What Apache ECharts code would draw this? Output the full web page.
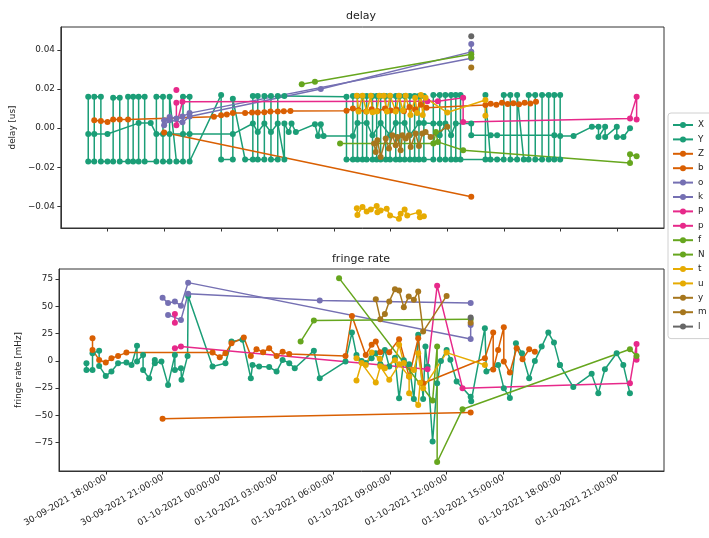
<!DOCTYPE html>
<html>
<head>
<meta charset="utf-8">
<script src="https://cdn.jsdelivr.net/npm/echarts@6/dist/echarts.min.js"></script>
<style>
  html, body { margin: 0; padding: 0; background: #fff; }
  #chart { width: 709px; height: 538px; }
</style>
</head>
<body>
<div id="chart"></div>
<script>
// time is hours since 30-09-2021 00:00
const xMin = 15.53, xMax = 47.48;
const timeTicks = [18, 21, 24, 27, 30, 33, 36, 39, 42, 45];
const delayTicks = [-0.04, -0.02, 0, 0.02, 0.04];
const rateTicks = [-75, -50, -25, 0, 25, 50, 75];

const names = ['X', 'Y', 'Z', 'b', 'o', 'k', 'P', 'p', 'f', 'N', 't', 'u', 'y', 'm', 'l'];

// ---- delay [us]
const X_delay = [[16.98,0.016],[16.98,-0.017],[17.30,-0.017],[17.30,0.016],[17.65,0.016],[17.65,-0.017],[18.00,-0.017],[18.30,-0.017],[18.30,0.0155],[18.65,0.0155],[18.65,-0.017],[19.09,-0.017],[19.09,0.016],[19.36,0.016],[19.36,-0.017],[19.65,-0.017],[19.65,0.016],[19.97,0.016],[19.97,-0.017],[20.59,-0.017],[20.59,0.016],[20.94,0.016],[20.94,-0.017],[21.29,-0.017],[21.29,0.016],[21.65,-0.017],[22.00,-0.017],[22.00,0.016],[22.35,0.016],[22.35,-0.017],
  [24.02,0.017],[24.02,-0.016],[24.64,-0.016],[24.64,0.015],[25.29,-0.016],[25.70,-0.016],[25.70,0.0165],[25.96,0.0165],[25.96,-0.016],[26.31,-0.016],[26.31,0.0165],[26.66,0.0165],[26.66,-0.016],[27.02,-0.016],[27.02,0.0165],[27.37,0.0165],
  [30.66,0.016],[30.66,-0.016],[31.00,-0.016],[31.00,0.0165],[31.24,0.0165],[31.24,-0.016],[31.51,-0.016],[31.51,0.0165],[31.73,0.0165],[31.73,-0.016],[32.04,-0.016],[32.04,0.0165],[32.26,0.0165],[32.26,-0.016],[32.47,-0.016],[32.47,0.0165],[32.74,0.0165],[32.74,-0.016],[32.97,-0.016],[32.97,0.0165],[33.27,0.0165],[33.27,-0.016],[33.49,-0.016],[33.49,0.0165],[33.74,0.0165],[33.74,-0.016],[34.02,-0.016],[34.02,0.0165],[34.27,0.0165],[34.27,-0.016],[34.50,-0.016],[34.50,0.0165],[34.76,0.0165],[34.76,-0.016],[35.26,-0.016],[35.26,0.017],[35.60,0.017],[35.60,-0.016],[35.90,-0.016],[35.90,0.017],[36.20,0.017],[36.20,-0.016],[36.45,-0.016],[36.45,0.017],[36.70,0.017],[36.70,-0.016],
  [38.02,-0.016],[38.02,0.017],[38.29,-0.016],[38.64,-0.016],[38.99,-0.016],[38.99,0.017],[39.34,0.017],[39.34,-0.016],[39.70,-0.016],[39.70,0.017],[40.05,-0.016],[40.31,-0.016],[40.31,0.017],[40.66,0.017],[40.66,-0.016],[41.02,-0.016],[41.02,0.017],[41.37,0.017],[41.37,-0.016],[41.67,-0.016],[41.67,0.017],[41.98,0.017],[41.98,-0.016]];
const Y_delay = [[16.98,-0.003],[17.30,-0.003],[18.00,-0.003],[19.65,0.0026],[20.29,0.0026],[20.59,-0.003],[20.94,-0.003],[21.29,-0.003],[22.00,-0.003],[22.35,-0.003],[24.64,-0.003],[25.70,0.0024],[25.96,-0.002],[26.31,0.0024],[26.66,-0.002],[27.02,0.0024],[27.37,-0.016],[27.37,0.0024],[27.60,-0.002],[27.75,0.0024],[27.98,-0.002],[28.99,0.002],[29.15,-0.004],[29.30,0.002],[29.45,-0.004],[31.00,-0.004],[31.24,0.0026],[31.73,0.0026],[32.04,-0.0036],[32.47,0.0026],[32.97,-0.0036],[33.27,0.0026],[33.74,0.0026],[34.02,-0.0036],[34.50,0.0026],[34.76,0.0026],[35.26,0.0024],[35.60,0.0024],[35.60,-0.0036],[35.90,0.0024],[36.20,-0.0036],[36.45,0.0024],[37.27,0.0024],[37.27,-0.0036],[38.30,-0.0036],[38.64,-0.0036],[41.67,-0.0036],[41.98,-0.004],[42.69,-0.004],[43.66,0.0007],[44.01,0.0007],[44.01,-0.0045],[44.36,0.0007],[44.36,-0.0045],[44.98,0.0007],[44.98,-0.0045],[45.33,-0.0045],[45.68,0.000]];
const Z_delay = [[21.00,-0.0022],[37.27,-0.035]];
const b_delay = [[17.30,0.0041],[17.65,0.0037],[18.00,0.0032],[18.30,0.0045],[18.65,0.0045],[19.09,0.0045],[23.64,0.0058],[24.02,0.0066],[24.32,0.0070],[24.64,0.0077],[25.29,0.0078],[25.66,0.0080],[25.96,0.0080],[26.31,0.0082],[26.63,0.0085],[27.02,0.0085],[27.34,0.0087],[27.69,0.0088],[30.66,0.0089],[31.00,0.0100],[31.30,0.0092],[31.70,0.0085],[32.00,0.0097],[32.30,0.0088],[32.70,0.0100],[33.00,0.0090],[33.30,0.0096],[33.70,0.0086],[34.00,0.0108],[34.30,0.0095],[34.60,0.0120],[34.90,0.0105],[38.02,0.0118],[38.30,0.0125],[38.60,0.0120],[38.90,0.0130],[39.20,0.0124],[39.50,0.0128],[39.80,0.0122],[40.10,0.0130],[40.40,0.0126],[40.70,0.0135]];
const o_delay = [[21.00,0.0040],[21.29,0.0057],[21.65,0.0050],[21.97,0.0060],[22.35,0.0077],[37.27,0.0357],[37.27,0.043]];
const k_delay = [[21.00,0.0015],[21.29,0.0040],[21.97,0.0030],[22.35,0.0060],[29.30,0.020],[37.27,0.039]];
const P_delay = [[21.65,0.013],[21.65,0.0015],[21.97,0.0135],[34.95,0.0138],[35.50,0.0138],[36.84,0.0155],[36.84,0.0032],[45.68,0.005],[46.03,0.016],[46.03,0.0045]];
const p_delay = [[21.65,0.0195]];
const f_delay = [[28.29,0.0224],[28.99,0.0237],[37.27,0.0378],[37.27,0.0362]];
const N_delay = [[30.32,-0.0078],[35.26,-0.0078],[35.40,-0.002],[35.50,-0.007],[36.84,-0.0113],[45.68,-0.0178],[45.68,-0.0133],[46.03,-0.0144]];
const t_delay = [[31.21,0.0166],[31.30,0.0085],[31.51,0.0166],[31.73,0.0085],[31.95,0.0166],[32.04,0.0082],[32.26,0.0085],[32.40,0.0166],[32.64,0.0166],[32.80,0.0085],[32.97,0.0166],[33.27,0.0085],[33.44,0.0166],[33.65,0.0090],[33.80,0.0166],[34.05,0.0067],[34.30,0.0155],[34.40,0.0077],[34.60,0.0170],[34.70,0.0067],[34.85,0.0155],[36.00,0.0080],[38.02,0.0144],[38.02,0.0063]];
const u_delay = [[31.21,-0.0409],[31.24,-0.0443],[31.51,-0.0403],[31.73,-0.0426],[31.95,-0.0415],[32.26,-0.0398],[32.30,-0.0429],[32.47,-0.0421],[32.79,-0.0412],[32.97,-0.0446],[33.44,-0.0463],[33.53,-0.0437],[33.74,-0.0415],[33.88,-0.0446],[34.50,-0.0429],[34.55,-0.0455],[34.76,-0.0450]];
const y_delay = [[32.12,-0.0078],[32.21,-0.0122],[32.30,-0.0062],[32.47,-0.0147],[32.74,-0.0053],[32.91,-0.0104],[33.09,-0.0036],[33.27,-0.0087],[33.36,-0.0045],[33.53,-0.0113],[33.62,-0.0036],[33.80,-0.0053],[33.97,-0.0036],[34.06,-0.0096],[34.32,-0.0027],[34.50,-0.0091],[34.68,-0.0027],[34.85,-0.0019],[35.12,-0.0045],[36.00,0.0007]];
const m_delay = [[37.27,0.031]];
const l_delay = [[37.27,0.047]];

// ---- fringe rate [mHz]
const X_rate = [[16.98,-2.1],[16.98,-8.3],[17.30,-8.3],[17.30,7.0],[17.65,9.4],[17.65,-4.6],[18.00,-13.8],[18.30,-9.8],[18.65,-2.1],[19.09,-1.5],[19.36,-3.7],[19.65,13.8],[19.65,-0.6],[19.97,5.5],[19.97,-8.3],[20.29,-15.9],[20.59,0.9],[20.59,-2.1],[20.94,-0.6],[21.29,-22.0],[21.65,5.5],[21.65,-8.3],[21.97,-6.7],[22.00,-17.4],[22.32,4.6],[22.35,59.6],[23.64,-5.2],[24.32,-2.1],[24.64,17.7],[25.22,19.3],[25.66,-15.9],[25.75,-3.7],[26.10,-5.2],[26.63,-5.5],[27.02,-9.8],[27.34,0.9],[27.69,-2.1],[27.98,-6.7],[28.99,9.4],[29.30,-15.9],
  [30.66,-0.6],[31.00,26.0],[31.24,5.5],[31.51,0.0],[31.73,-2.0],[32.04,2.4],[32.26,7.0],[32.50,-3.0],[32.74,10.0],[32.97,-5.2],[33.27,3.0],[33.49,-34.2],[33.74,0.5],[34.02,-3.0],[34.27,-35.0],[34.50,23.9],[34.76,-35.0],[34.88,13.1],[34.99,-5.2],[35.26,-74.0],[35.50,-20.5],[35.70,0.0],[36.00,10.0],[36.20,1.0],[36.53,-19.0],[37.27,-33.0],[37.30,-37.0],[38.02,30.0],[38.10,-9.8],[38.72,-3.7],[39.02,-25.0],[39.34,-34.0],[39.66,16.2],[39.98,7.0],[40.36,-15.9],[40.66,0.0],[41.02,13.1],[41.37,26.0],[41.67,16.8],[41.98,-3.7]];
const Y_rate = [[41.98,-3.7],[42.69,-24.0],[43.66,-11.9],[44.01,-29.6],[44.36,-7.6],[44.98,7.0],[45.33,-3.7],[45.68,-29.6]];
const Z_rate = [[21.00,-53.0],[37.27,-47.4]];
const b_rate = [[17.30,20.8],[17.30,10.1],[17.65,0.9],[18.00,-1.5],[18.30,2.4],[18.65,4.6],[19.09,7.6],[23.64,7.6],[24.02,3.4],[24.32,7.0],[24.64,16.2],[25.29,21.4],[25.66,4.6],[25.96,10.7],[26.31,8.0],[26.63,11.6],[27.02,4.6],[27.34,8.5],[27.69,6.4],[30.66,4.6],[31.00,41.3],[31.73,5.5],[32.04,14.7],[32.26,17.7],[32.50,8.0],[32.97,8.0],[33.49,19.9],[34.02,-14.4],[34.50,20.8],[34.76,-20.5],[38.02,2.4],[38.46,26.0],[38.46,-8.0],[38.72,10.0],[39.02,30.9],[39.02,-0.5],[39.34,-10.7],[39.70,11.6],[40.01,1.6],[40.36,10.7],[40.66,8.5]];
const o_rate = [[21.00,58.0],[21.29,53.0],[21.65,54.4],[21.97,50.7],[22.35,71.8],[37.27,20.0],[37.27,33.0]];
const k_rate = [[21.29,42.2],[21.97,37.6],[22.35,61.5],[29.30,55.3],[37.27,53.0]];
const P_rate = [[21.65,11.6],[21.97,13.1],[34.99,-7.6],[35.50,69.0],[36.84,-25.0],[45.68,-20.5],[46.03,15.6],[46.03,1.0]];
const p_rate = [[21.65,43.0],[21.65,35.0]];
const f_rate = [[28.29,17.7],[28.99,37.0],[37.27,38.3]];
const N_rate = [[30.32,75.9],[35.26,-36.4],[35.50,13.1],[35.50,-92.7],[36.84,-44.3],[45.68,10.7],[46.03,4.6]];
const t_rate = [[31.24,2.4],[31.73,-3.7],[32.04,7.6],[32.47,2.0],[32.74,-6.7],[33.27,0.5],[33.49,14.7],[33.74,-2.0],[34.27,-8.3],[34.50,7.0],[34.76,-25.0],[36.00,7.6],[38.02,-3.7]];
const u_rate = [[31.24,-18.0],[31.51,-2.0],[32.26,-19.9],[32.50,-5.0],[32.97,-17.4],[33.50,-3.0],[34.02,-14.4],[34.02,-29.6],[34.50,-40.4],[34.60,-20.0]];
const y_rate = [[32.26,56.6],[32.50,38.3],[32.74,43.0],[32.97,54.4],[33.27,65.8],[33.49,64.5],[33.74,49.3],[34.00,59.0],[34.27,56.0],[34.50,63.6],[34.76,26.9],[36.00,59.6]];
const m_rate = [[37.27,35.1]];
const l_rate = [[37.27,39.7]];

const delayData = { X: X_delay, Y: Y_delay, Z: Z_delay, b: b_delay, o: o_delay, k: k_delay, P: P_delay, p: p_delay, f: f_delay, N: N_delay, t: t_delay, u: u_delay, y: y_delay, m: m_delay, l: l_delay };
const rateData = { X: X_rate, Y: Y_rate, Z: Z_rate, b: b_rate, o: o_rate, k: k_rate, P: P_rate, p: p_rate, f: f_rate, N: N_rate, t: t_rate, u: u_rate, y: y_rate, m: m_rate, l: l_rate };

// Dark2, two names per colour
const palette = ['#1b9e77', '#d95f02', '#7570b3', '#e7298a', '#66a61e', '#e6ab02', '#a6761d', '#666666'];
const colorOf = (i) => palette[Math.floor(i / 2)];

const FONT = 'DejaVu Sans';
const TXT = '#222';
const FS = 8.8;

function fmtTime(h) {
  const day = h >= 24 ? '01-10-2021' : '30-09-2021';
  const hh = String(Math.round(h) % 24).padStart(2, '0');
  return day + ' ' + hh + ':00:00';
}
const minus = (s) => s.replace('-', '\u2212');

const myChart = echarts.init(document.getElementById('chart'), null, { renderer: 'canvas' });

const series = [];
names.forEach((name, i) => {
  const c = colorOf(i);
  const style = {
    name: name,
    type: 'line',
    symbol: 'circle',
    symbolSize: 6,
    color: c,
    lineStyle: { width: 1.5, color: c },
    itemStyle: { color: c },
    emphasis: { disabled: true },
    animation: false
  };
  series.push(Object.assign({}, style, { xAxisIndex: 0, yAxisIndex: 0, data: delayData[name] }));
  series.push(Object.assign({}, style, { xAxisIndex: 1, yAxisIndex: 1, data: rateData[name] }));
});

const axisCommon = {
  axisLine: { show: true, onZero: false, lineStyle: { color: '#333', width: 1 } },
  axisTick: { show: true, length: 3.5, lineStyle: { color: '#333', width: 1 } },
  splitLine: { show: false }
};

let option = {
  animation: false,
  backgroundColor: '#fff',
  textStyle: { fontFamily: FONT },
  title: [
    { text: 'delay', left: 361, top: 11, textAlign: 'center', padding: 0,
      textStyle: { fontSize: 11, fontWeight: 'normal', color: TXT, fontFamily: FONT } },
    { text: 'fringe rate', left: 361, top: 254, textAlign: 'center', padding: 0,
      textStyle: { fontSize: 11, fontWeight: 'normal', color: TXT, fontFamily: FONT } }
  ],
  grid: [
    { left: 59, top: 27, width: 605, height: 201, show: true, borderColor: '#333', borderWidth: 1, containLabel: false },
    { left: 59, top: 269, width: 605, height: 202, show: true, borderColor: '#333', borderWidth: 1, containLabel: false }
  ],
  xAxis: [
    Object.assign({}, axisCommon, {
      gridIndex: 0, type: 'value', min: xMin, max: xMax,
      axisTick: Object.assign({}, axisCommon.axisTick, { customValues: timeTicks }),
      axisLabel: { show: false }
    }),
    Object.assign({}, axisCommon, {
      gridIndex: 1, type: 'value', min: xMin, max: xMax,
      axisTick: Object.assign({}, axisCommon.axisTick, { customValues: timeTicks }),
      axisLabel: { customValues: timeTicks, rotate: 30, margin: 6, fontSize: FS, color: TXT, fontFamily: FONT,
        formatter: (v) => fmtTime(v) }
    })
  ],
  yAxis: [
    Object.assign({}, axisCommon, {
      gridIndex: 0, type: 'value', min: -0.0510, max: 0.0517,
      name: 'delay [us]', nameLocation: 'middle', nameGap: 38, nameRotate: 90,
      nameTextStyle: { fontSize: FS, color: TXT, fontFamily: FONT },
      axisTick: Object.assign({}, axisCommon.axisTick, { customValues: delayTicks }),
      axisLabel: { customValues: delayTicks, margin: 6, fontSize: FS, color: TXT, fontFamily: FONT,
        formatter: (v) => minus(v.toFixed(2)) }
    }),
    Object.assign({}, axisCommon, {
      gridIndex: 1, type: 'value', min: -101, max: 84.3,
      name: 'fringe rate [mHz]', nameLocation: 'middle', nameGap: 27, nameRotate: 90,
      nameTextStyle: { fontSize: FS, color: TXT, fontFamily: FONT },
      axisTick: Object.assign({}, axisCommon.axisTick, { customValues: rateTicks }),
      axisLabel: { customValues: rateTicks, margin: 6, fontSize: FS, color: TXT, fontFamily: FONT,
        formatter: (v) => minus(String(v)) }
    })
  ],
  legend: {
    data: names,
    orient: 'vertical',
    left: 668,
    top: 113,
    itemWidth: 20,
    itemHeight: 7.5,
    itemGap: 2.4,
    padding: [6, 30, 6, 4],
    borderColor: '#d0d0d0',
    borderWidth: 1,
    borderRadius: 3,
    backgroundColor: 'rgba(255,255,255,0.8)',
    selectedMode: false,
    textStyle: { fontSize: FS, lineHeight: 12, color: TXT, fontFamily: FONT }
  },
  series: series
};

option && myChart.setOption(option);
</script>
</body>
</html>
